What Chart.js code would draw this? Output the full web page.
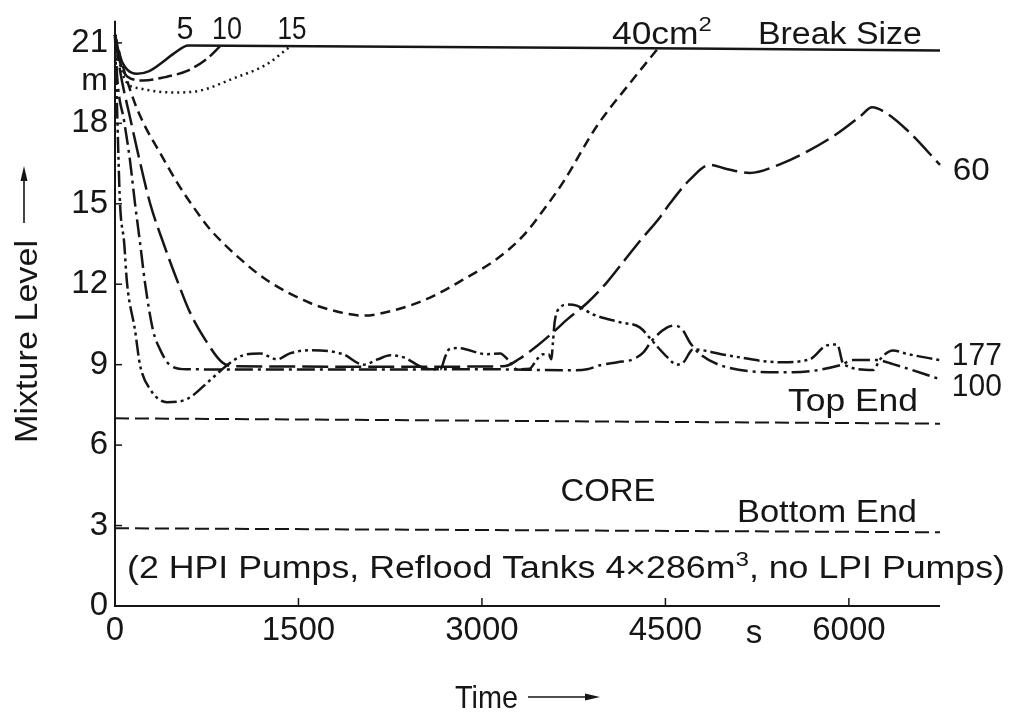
<!DOCTYPE html>
<html>
<head>
<meta charset="utf-8">
<script src="https://cdn.jsdelivr.net/npm/chart.js@4.4.1/dist/chart.umd.min.js"></script>
<style>
  body { margin: 0; background: #fff; }
  #wrap { width: 1017px; height: 721px; }
</style>
</head>
<body>
<div id="wrap"><canvas id="chart" width="1017" height="721"></canvas></div>
<script>
// tick labels
var xTicks = [0, 1500, 3000, 4500, 6000];
var yTicks = [0, 3, 6, 9, 12, 15, 18, 21];

// break size 5 cm2 (continues as the common "Break Size" level line)
var t5 = [0, 40, 100, 180, 280, 380, 480, 600, 6745];
var h5 = [21.3, 20.5, 20.0, 19.85, 19.95, 20.25, 20.6, 20.9, 20.72];
// 10 cm2
var t10 = [0, 40, 100, 230, 425, 590, 750, 860];
var h10 = [21.3, 20.3, 19.75, 19.6, 19.74, 19.96, 20.4, 20.88];
// 15 cm2
var t15 = [0, 40, 100, 205, 475, 695, 965, 1240, 1430];
var h15 = [21.3, 20.2, 19.5, 19.3, 19.15, 19.22, 19.67, 20.2, 20.86];
// 40 cm2
var t40 = [0, 60, 163, 250, 368, 507, 638, 777, 1047, 1243, 1595, 1800, 2028, 2306, 2576, 2845, 3124, 3336, 3500, 3663, 3940, 4210, 4440];
var h40 = [21.3, 20.2, 18.74, 17.85, 16.9, 15.8, 14.9, 14.05, 12.85, 12.15, 11.3, 11.0, 10.83, 11.06, 11.5, 12.17, 12.95, 13.8, 14.75, 15.8, 17.9, 19.5, 20.8];
// 60 cm2
var t60 = [0, 40, 130, 188, 286, 395, 515, 613, 752, 875, 965, 1500, 2000, 2500, 3000, 3190, 3300, 3450, 3580, 3700, 3860, 4020, 4150, 4290, 4456, 4535, 4700, 4865, 5000, 5190, 5450, 5680, 5900, 6090, 6190, 6300, 6475, 6745];
var h60 = [21.3, 20.0, 18.07, 16.88, 15.03, 13.54, 12.06, 10.95, 9.83, 9.09, 8.94, 8.93, 8.92, 8.92, 8.93, 8.95, 9.2, 9.7, 10.2, 10.7, 11.3, 12.06, 12.8, 13.6, 14.5, 15.0, 15.9, 16.45, 16.3, 16.15, 16.5, 17.0, 17.6, 18.25, 18.6, 18.4, 17.75, 16.45];
// 100 cm2
var t100 = [0, 20, 75, 123, 163, 205, 245, 310, 368, 450, 590, 1000, 2000, 3000, 3720, 3860, 3965, 4110, 4235, 4320, 4390, 4515, 4580, 4640, 4700, 4785, 5005, 5440, 5545, 5930, 6035, 6230, 6360, 6745];
var h100 = [21.3, 19.6, 18.07, 16.6, 15.03, 13.54, 12.06, 10.3, 9.57, 8.98, 8.83, 8.82, 8.82, 8.83, 8.79, 8.83, 8.98, 9.09, 9.2, 9.46, 9.9, 10.39, 10.46, 10.3, 9.83, 9.39, 8.9, 8.72, 8.72, 8.98, 9.17, 9.17, 9.02, 8.46];
// 177 cm2
var t177 = [0, 16, 41, 75, 98, 163, 205, 286, 425, 590, 777, 916, 1047, 1186, 1325, 1430, 1595, 1864, 2030, 2150, 2250, 2355, 2550, 2660, 2700, 2730, 2800, 3040, 3150, 3215, 3285, 3390, 3450, 3500, 3545, 3568, 3580, 3595, 3640, 3695, 3775, 3910, 4130, 4290, 4390, 4515, 4595, 4650, 4725, 5005, 5440, 5680, 5820, 5905, 5955, 6200, 6255, 6360, 6475, 6745];
var h177 = [21.3, 18.7, 15.03, 13.54, 12.06, 10.3, 8.98, 8.09, 7.6, 7.72, 8.42, 8.98, 9.35, 9.42, 9.2, 9.42, 9.54, 9.39, 9.0, 9.2, 9.35, 9.28, 8.85, 8.83, 9.3, 9.57, 9.62, 9.39, 9.42, 9.17, 8.83, 8.85, 9.2, 9.39, 9.39, 9.2, 9.8, 10.6, 11.13, 11.24, 11.2, 10.87, 10.58, 10.39, 9.9, 9.28, 9.0, 9.1, 9.57, 9.35, 9.09, 9.2, 9.72, 9.75, 9.02, 8.8, 9.2, 9.53, 9.4, 9.17];
// core top and bottom end
var tEnds = [0, 6745];
var hTopEnd = [7.0, 6.8];
var hBottomEnd = [2.9, 2.75];

var FONT = "'Liberation Sans', Arial, Helvetica, sans-serif";
var INK = '#161616';

function pts(ts, hs) {
  return ts.map(function(t, i) { return { x: t, y: hs[i] }; });
}

function curve(label, ts, hs, dash, width) {
  return {
    label: label,
    data: pts(ts, hs),
    borderColor: INK,
    borderWidth: width || 2.5,
    borderDash: dash,
    pointRadius: 0,
    fill: false,
    cubicInterpolationMode: 'monotone',
    clip: false
  };
}

function fitText(ctx, text, px, py, width, size, align) {
  ctx.font = size + 'px ' + FONT;
  var w = ctx.measureText(text).width;
  var sx = width ? width / w : 1;
  ctx.save();
  ctx.translate(px, py);
  ctx.scale(sx, 1);
  ctx.textAlign = align || 'left';
  ctx.textBaseline = 'alphabetic';
  ctx.fillText(text, 0, 0);
  ctx.restore();
}

function richText(ctx, parts, px, py, width, size) {
  var total = 0;
  parts.forEach(function(p) {
    ctx.font = (p.sup ? Math.round(size * 0.68) : size) + 'px ' + FONT;
    p.w = ctx.measureText(p.t).width;
    total += p.w;
  });
  ctx.save();
  ctx.translate(px, py);
  ctx.scale(width / total, 1);
  ctx.textAlign = 'left';
  ctx.textBaseline = 'alphabetic';
  var cx = 0;
  parts.forEach(function(p) {
    ctx.font = (p.sup ? Math.round(size * 0.68) : size) + 'px ' + FONT;
    ctx.fillText(p.t, cx, p.sup ? -size * 0.4 : 0);
    cx += p.w;
  });
  ctx.restore();
}

function arrowHead(ctx, x1, y1, x2, y2, x3, y3) {
  ctx.beginPath();
  ctx.moveTo(x1, y1); ctx.lineTo(x2, y2); ctx.lineTo(x3, y3);
  ctx.closePath();
  ctx.fill();
}

var decor = {
  id: 'decor',
  afterDatasetsDraw: function(chart) {
    var ctx = chart.ctx, x = chart.scales.x, y = chart.scales.y, a = chart.chartArea;
    ctx.save();
    ctx.strokeStyle = INK;
    ctx.fillStyle = INK;
    ctx.lineWidth = 2;
    ctx.setLineDash([]);

    // axes
    ctx.beginPath();
    ctx.moveTo(a.left, a.top - 6);
    ctx.lineTo(a.left, a.bottom);
    ctx.lineTo(a.right, a.bottom);
    ctx.stroke();

    // inward tick marks
    ctx.lineWidth = 1.5;
    xTicks.forEach(function(v) {
      var px = x.getPixelForValue(v);
      if (v === 0) return;
      ctx.beginPath(); ctx.moveTo(px, a.bottom); ctx.lineTo(px, a.bottom - 8); ctx.stroke();
    });
    yTicks.forEach(function(v) {
      var py = y.getPixelForValue(v);
      ctx.beginPath(); ctx.moveTo(a.left, py); ctx.lineTo(a.left + 7, py); ctx.stroke();
    });

    // unit labels
    fitText(ctx, 'm', a.left - 7, y.getPixelForValue(19.23), 0, 32, 'right');
    fitText(ctx, 's', x.getPixelForValue(5224), a.bottom + 37, 0, 33, 'center');

    // curve labels
    var S = 31;
    fitText(ctx, '5', x.getPixelForValue(572), y.getPixelForValue(21.16), 17, S, 'center');
    fitText(ctx, '10', x.getPixelForValue(915), y.getPixelForValue(21.16), 30, S, 'center');
    fitText(ctx, '15', x.getPixelForValue(1447), y.getPixelForValue(21.16), 29, S, 'center');
    richText(ctx, [{ t: '40cm' }, { t: '2', sup: true }], x.getPixelForValue(4063), y.getPixelForValue(20.97), 100, S);
    fitText(ctx, 'Break Size', x.getPixelForValue(5256), y.getPixelForValue(20.97), 164, S);
    fitText(ctx, '60', x.getPixelForValue(6850), y.getPixelForValue(15.9), 37, S);
    fitText(ctx, '177', x.getPixelForValue(6842), y.getPixelForValue(9.0), 50, S);
    fitText(ctx, '100', x.getPixelForValue(6842), y.getPixelForValue(7.82), 50, S);
    fitText(ctx, 'Top End', x.getPixelForValue(5502), y.getPixelForValue(7.26), 130, S);
    fitText(ctx, 'CORE', x.getPixelForValue(4030), y.getPixelForValue(3.93), 95, S, 'center');
    fitText(ctx, 'Bottom End', x.getPixelForValue(5085), y.getPixelForValue(3.15), 180, S);
    richText(ctx, [
      { t: '(2 HPI Pumps, Reflood Tanks 4\u00D7286m' },
      { t: '3', sup: true },
      { t: ', no LPI Pumps)' }
    ], x.getPixelForValue(98), y.getPixelForValue(1.04), 878, 31);

    // axis titles with arrows
    ctx.save();
    ctx.translate(37, 443);
    ctx.rotate(-Math.PI / 2);
    fitText(ctx, 'Mixture Level', 0, 0, 203, 32);
    ctx.restore();
    ctx.lineWidth = 1.6;
    ctx.beginPath(); ctx.moveTo(24, 223); ctx.lineTo(24, 176); ctx.stroke();
    arrowHead(ctx, 24, 166, 20.5, 181, 27.5, 181);

    fitText(ctx, 'Time', 455, 708, 63, 32);
    ctx.beginPath(); ctx.moveTo(528, 697); ctx.lineTo(590, 697); ctx.stroke();
    arrowHead(ctx, 600, 697, 585, 693.5, 585, 700.5);

    ctx.restore();
  }
};

Chart.defaults.font.family = FONT;
Chart.defaults.color = INK;

new Chart(document.getElementById('chart').getContext('2d'), {
  type: 'line',
  data: {
    datasets: [
      curve('5 cm2', t5, h5, []),
      curve('10 cm2', t10, h10, [14, 5]),
      curve('15 cm2', t15, h15, [2, 4]),
      curve('40 cm2', t40, h40, [10, 6]),
      curve('60 cm2', t60, h60, [26, 7]),
      curve('100 cm2', t100, h100, [18, 5, 3, 5]),
      curve('177 cm2', t177, h177, [16, 4, 3, 4, 3, 4]),
      curve('Top End', tEnds, hTopEnd, [14, 6], 2),
      curve('Bottom End', tEnds, hBottomEnd, [14, 6], 2)
    ]
  },
  options: {
    responsive: false,
    animation: false,
    devicePixelRatio: 1,
    layout: { padding: { top: 23, right: 77, left: 0, bottom: 0 } },
    plugins: { legend: { display: false }, tooltip: { enabled: false } },
    scales: {
      x: {
        type: 'linear',
        min: 0,
        max: 6745,
        afterBuildTicks: function(s) { s.ticks = xTicks.map(function(v) { return { value: v }; }); },
        afterFit: function(s) { s.height = 115; },
        grid: { display: false, drawTicks: false },
        border: { display: false },
        ticks: {
          font: { size: 33 }, color: INK, padding: 5, maxRotation: 0, autoSkip: false,
          callback: function(v) { return String(v); }
        }
      },
      y: {
        type: 'linear',
        min: 0,
        max: 21.6,
        afterBuildTicks: function(s) { s.ticks = yTicks.map(function(v) { return { value: v }; }); },
        afterFit: function(s) { s.width = 115; },
        grid: { display: false, drawTicks: false },
        border: { display: false },
        ticks: { font: { size: 33 }, color: INK, padding: 7, autoSkip: false }
      }
    }
  },
  plugins: [decor]
});
</script>
</body>
</html>
